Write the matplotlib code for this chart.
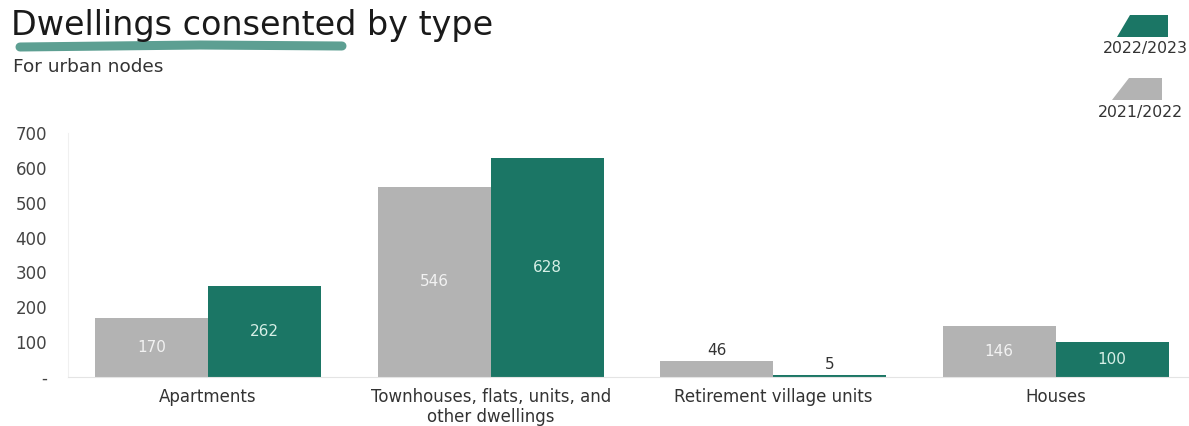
import matplotlib.pyplot as plt
from matplotlib.patches import Polygon
from matplotlib.lines import Line2D
import numpy as np

plt.rcParams['font.family'] = ['DejaVu Sans']

categories = ['Apartments', 'Townhouses, flats, units, and\nother dwellings',
              'Retirement village units', 'Houses']
vals_2122 = [170, 546, 46, 146]
vals_2223 = [262, 628, 5, 100]
series_names = ['2021/2022', '2022/2023']
yticks = [0, 100, 200, 300, 400, 500, 600, 700]
ytick_labels = ['-', '100', '200', '300', '400', '500', '600', '700']

grey = '#b3b3b3'
green = '#1b7665'

W, H = 1189, 426
fig = plt.figure(figsize=(W / 100, H / 100), dpi=100)
ax = fig.add_axes([68 / W, 49 / H, (W - 68) / W, 244 / H])

x = np.arange(len(categories))
w = 0.4
b1 = ax.bar(x - w / 2, vals_2122, w, color=grey)
b2 = ax.bar(x + w / 2, vals_2223, w, color=green)

# value labels: inside the bar when it is tall enough, above it otherwise
for bars, vals, inner in [(b1, vals_2122, '#f2f2f2'), (b2, vals_2223, '#d6efe6')]:
    for rect, v in zip(bars, vals):
        cx = rect.get_x() + rect.get_width() / 2
        if v > 80:
            ax.text(cx, v / 2, str(v), ha='center', va='center',
                    fontsize=11, color=inner)
        else:
            ax.text(cx, v + 8, str(v), ha='center', va='bottom',
                    fontsize=11, color='#333333')

ax.set_xlim(-0.496, 3.472)
ax.set_ylim(0, 700)
ax.set_yticks(yticks)
ax.set_yticklabels(ytick_labels, fontsize=12, color='#444444')
ax.set_xticks(x)
ax.set_xticklabels(categories, fontsize=12, color='#333333', linespacing=1.1)
ax.tick_params(axis='y', length=0, pad=15)
ax.tick_params(axis='x', length=0, pad=8)
for s in ['top', 'right']:
    ax.spines[s].set_visible(False)
ax.spines['left'].set_color('#f0f0f0')
ax.spines['bottom'].set_color('#e4e4e4')
ax.spines['left'].set_linewidth(0.8)
ax.spines['bottom'].set_linewidth(0.8)

# title, brush underline and subtitle
fig.text(11 / W, 1 - 35 / H, 'Dwellings consented by type', fontsize=24,
         color='#1a1a1a', va='baseline')
fig.add_artist(Line2D([20 / W, 200 / W, 342 / W], [1 - 47 / H, 1 - 45 / H, 1 - 46 / H],
                      transform=fig.transFigure, color='#5d9f92', lw=6.5,
                      solid_capstyle='round'))
fig.text(13 / W, 1 - 72 / H, 'For urban nodes', fontsize=13.3, color='#333333',
         va='baseline')

# legend swatches
def swatch(x0, x1, xb, y0, y1, color):
    pts = [(x0 / W, 1 - y0 / H), (x1 / W, 1 - y0 / H),
           (x1 / W, 1 - y1 / H), (xb / W, 1 - y1 / H)]
    fig.add_artist(Polygon(pts, closed=True, transform=fig.transFigure,
                           color=color, lw=0))

swatch(1130, 1168, 1117, 15, 37, green)
swatch(1129, 1162, 1112, 78, 100, grey)
fig.text(1145 / W, 1 - 48 / H, series_names[1], fontsize=11.3, color='#333333',
         ha='center', va='center')
fig.text(1140 / W, 1 - 113 / H, series_names[0], fontsize=11.3, color='#333333',
         ha='center', va='center')

fig.savefig('out.png', dpi=100)
